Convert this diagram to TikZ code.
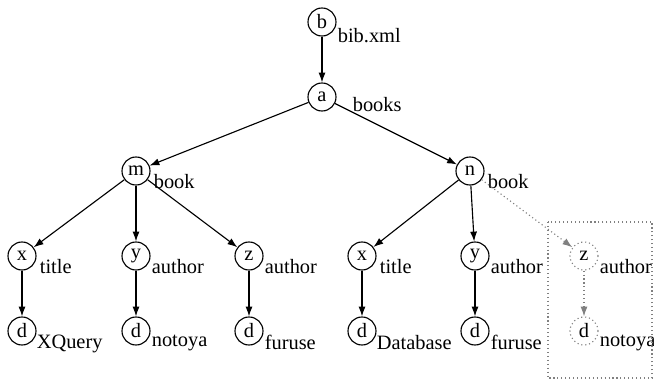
\documentclass[tikz,border=0pt]{standalone}
\usepackage{fontspec}
\setmainfont{Liberation Serif}
\usetikzlibrary{arrows.meta,positioning}

\begin{document}
\begin{tikzpicture}[x=0.025cm,y=-0.025cm,
    vtx/.style={draw,circle,line width=0.8pt,inner sep=0pt,minimum size=0.7cm,font=\fontsize{14.5}{16}\selectfont},
    ghost/.style={vtx,dotted,draw=gray},
    lbl/.style={inner sep=0pt,anchor=north west,font=\fontsize{14.5}{16}\selectfont},
    edge/.style={line width=0.8pt,-{Latex[length=7pt,width=5pt]}},
    gedge/.style={line width=0.8pt,dotted,gray,-{Latex[length=7pt,width=5pt]}}]
      \useasboundingbox (0,0) rectangle (654,381);

      %% vertices
      \node[vtx] (b) at (322,22) {b};
      \node[vtx] (a) at (322,97) {a};
      \node[vtx] (m) at (136,171) {m};
      \node[vtx] (n) at (470,171) {n};
      \node[vtx] (x1) at (22,256) {x};
      \node[vtx] (y1) at (136,256) {y};
      \node[vtx] (z1) at (249,256) {z};
      \node[vtx] (x2) at (362,256) {x};
      \node[vtx] (y2) at (475,256) {y};
      \node[ghost] (z2) at (584,256) {z};
      \node[vtx] (d1) at (22,331) {d};
      \node[vtx] (d2) at (136,331) {d};
      \node[vtx] (d3) at (249,331) {d};
      \node[vtx] (d4) at (362,331) {d};
      \node[vtx] (d5) at (475,331) {d};
      \node[ghost] (d6) at (584,331) {d};

      %% vertex labels
      \node[lbl] (lb) at ([shift={(1,6)}]b.east) {bib.xml};
      \node[lbl] (la) at ([shift={(16,0)}]a.east) {books};
      \node[lbl] (lm) at ([shift={(3,3)}]m.east) {book};
      \node[lbl] (ln) at ([shift={(3,3)}]n.east) {book};
      \node[lbl] (lx1) at ([shift={(3,3)}]x1.east) {title};
      \node[lbl] (ly1) at ([shift={(1,3)}]y1.east) {author};
      \node[lbl] (lz1) at ([shift={(1,3)}]z1.east) {author};
      \node[lbl] (lx2) at ([shift={(3,3)}]x2.east) {title};
      \node[lbl] (ly2) at ([shift={(1,3)}]y2.east) {author};
      \node[lbl] (lz2) at ([shift={(1,3)}]z2.east) {author};
      \node[lbl] (ld1) at ([shift={(0,4)}]d1.east) {XQuery};
      \node[lbl] (ld2) at ([shift={(1,4)}]d2.east) {notoya};
      \node[lbl] (ld3) at ([shift={(1,4)}]d3.east) {furuse};
      \node[lbl] (ld4) at ([shift={(0,4)}]d4.east) {Database};
      \node[lbl] (ld5) at ([shift={(1,4)}]d5.east) {furuse};
      \node[lbl] (ld6) at ([shift={(1,4)}]d6.east) {notoya};

      %% edges
      % b -> a
      \draw[edge] (b) -- (a);
      % a -> m, a -> n
      \draw[edge] (a) -- (m);
      \draw[edge] (a) -- (n);
      % m -> x, y, z
      \draw[edge] (m) -- (x1);
      \draw[edge] (m) -- (y1);
      \draw[edge] (m) -- (z1);
      % n -> x, y
      \draw[edge] (n) -- (x2);
      \draw[edge] (n) -- (y2);
      % n -> z (missing)
      \draw[gedge] (n) -- (z2);
      % leaves
      \draw[edge] (x1) -- (d1);
      \draw[edge] (y1) -- (d2);
      \draw[edge] (z1) -- (d3);
      \draw[edge] (x2) -- (d4);
      \draw[edge] (y2) -- (d5);
      \draw[gedge] (z2) -- (d6);

      %% box
      \draw[line width=0.8pt,dotted,gray] (548,222) rectangle (652,378);
\end{tikzpicture}
\end{document}
